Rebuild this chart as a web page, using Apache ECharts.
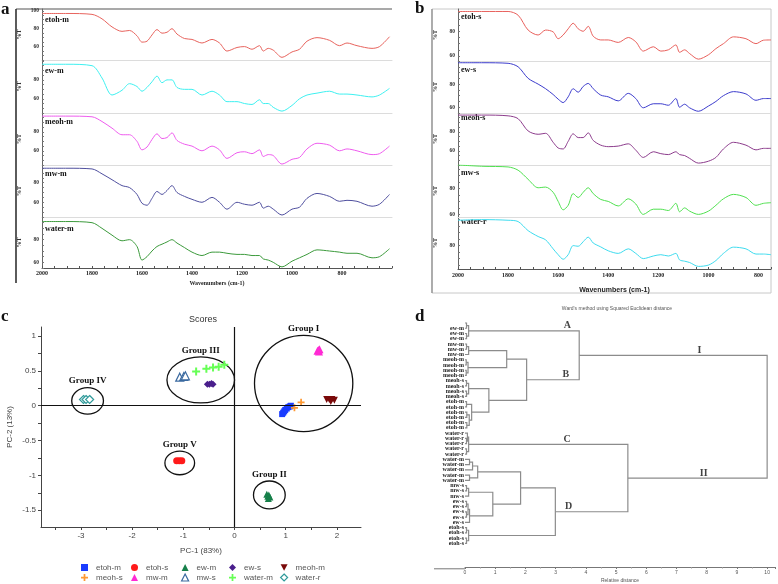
<!DOCTYPE html>
<html>
<head>
<meta charset="utf-8">
<script src="https://cdn.jsdelivr.net/npm/echarts@6.0.0/dist/echarts.min.js"></script>
<style>html,body{margin:0;padding:0;background:#fff}#main{width:778px;height:584px}</style>
</head>
<body>
<div id="main"></div>
<script>
// ---- panel a : FTIR spectra (%T) ----
var wnA = [2000,1900,1800,1760,1720,1680,1650,1620,1600,1580,1560,1540,1520,1500,1480,1460,1430,1400,1360,1320,1290,1260,1220,1190,1160,1130,1115,1095,1075,1040,1000,970,940,900,850,810,780,740,680,650,610];
var etohM = [97,97,96,91,82,77,78,72,65,66,73,79,75,76,80,74,69,68,64,68,64,55,59,60,57,61,55,58,56,48,54,57,66,70,67,61,64,61,58,60,71];
var ewM = [96.5,96.5,95,82,64,69,76,73,68,72,78,84,77,80,80,72,70,70,64,68,64,57,57,55,54,59,55,55,51,47,53,60,64,66,68,65,65,64,62,64,71];
var meohM = [96.7,96.7,96,91,84,77,77,70,61,64,72,78,73,74,79,71,67,65,60,65,61,52,58,59,57,61,54,56,55,46,51,53,62,68,66,60,62,60,56,57,65];
var mwM = [94.7,94.7,94,89,83,77,75,68,59,57,64,71,68,72,77,70,66,63,60,65,60,53,60,58,57,60,54,56,53,47,53,55,64,69,66,61,62,61,56,58,68];
var waterM = [96,96,95,90,84,79,80,74,62,65,70,74,76,78,80,77,73,69,66,69,69,68,67,67,66,66,63,62,60,56,61,64,67,71,70,69,68,68,64,65,72];

// ---- panel b : FTIR spectra (%T) ----
var wnB = [2000,1900,1800,1760,1720,1680,1650,1620,1600,1580,1560,1540,1520,1500,1480,1460,1430,1400,1360,1320,1290,1260,1220,1190,1160,1130,1115,1095,1075,1040,1000,970,940,900,850,810,780,750];
var etohS = [96,96,96,93,81,77,81,79.5,74,77,82,86.5,82,80,84,76,73,73,71,75,71.5,64,67.5,64,65,69,63,65,62,57.5,61,66,70,75.5,74,70,72.8,73];
var ewS = [98.5,98.5,98,95,85,80,76,71,67,64,69,76,73,78,80.6,76,70.5,69,65.5,72,67.5,59.5,63,63,61.7,67.5,60,62.6,59.5,56.5,61,65,70,73.5,71.5,66,67.5,67.5];
var meohS = [97.8,97.8,97,94,81,77.5,78.5,69,63,62,70,78,74,74,79,71,66,64.4,65,67.4,60.7,53,59,57,56,59,56,55,52,47,49,53,62,69,66,61,62.6,62.6];
var mwS = [98,97,96.5,94,87,80.5,81,77,70,63.5,67,76,73,77,80.5,76,71.5,70,66.5,72,68,60,64,64,63,68.5,62,65,62.5,60,62.5,67,72,75.4,73,67,68.5,69];
var waterR = [99.5,100,99.5,98.5,91.5,87,84.4,77.5,73,69.5,73,80,79.5,83,86.5,82,79,76,74,77.5,74,70,72,73,72,74,69,68,67,64,65,68.5,74,78.8,77.5,73.5,73.5,73];

// ---- panel c : PCA scores [PC-1, PC-2] ----
var pcEtohM = [[0.93,-0.12],[0.95,-0.1],[0.97,-0.08],[0.99,-0.06],[1.02,-0.04],[1.05,-0.02],[1.08,-0.01],[1.1,0.0]];
var pcEtohS = [[-1.13,-0.79],[-1.08,-0.79],[-1.03,-0.79]];
var pcEwM = [[0.63,-1.27],[0.65,-1.3],[0.67,-1.28],[0.66,-1.33],[0.69,-1.31]];
var pcEwS = [[-0.53,0.31],[-0.49,0.31],[-0.45,0.32],[-0.42,0.31]];
var pcMeohM = [[1.8,0.09],[1.85,0.09],[1.9,0.09],[1.95,0.08],[1.88,0.06]];
var pcMeohS = [[1.17,-0.03],[1.3,0.05]];
var pcMwM = [[1.62,0.79],[1.64,0.8],[1.66,0.81],[1.65,0.78]];
var pcMwS = [[-1.07,0.41],[-0.99,0.42],[-0.96,0.43]];
var pcWaterM = [[-0.75,0.49],[-0.55,0.53],[-0.42,0.55],[-0.31,0.56],[-0.2,0.59]];
var pcWaterR = [[-2.95,0.09],[-2.9,0.09],[-2.83,0.09]];
var groupNames = ['Group I','Group III','Group IV','Group V','Group II'];
var groupEllipses = [[1.35,0.32,0.96,0.69],[-0.66,0.37,0.66,0.33],[-2.87,0.07,0.31,0.19],[-1.07,-0.82,0.29,0.17],[0.68,-1.28,0.31,0.2]];

// ---- panel d : Ward dendrogram ----
var leafNames = ['ew-m','ew-m','ew-m','ew-m','mw-m','mw-m','mw-m','meoh-m','meoh-m','meoh-m','meoh-m',
  'meoh-s','meoh-s','meoh-s','meoh-s','etoh-m','etoh-m','etoh-m','etoh-m','etoh-m','etoh-m',
  'water-r','water-r','water-r','water-r','water-r','water-m','water-m','water-m','water-m','water-m',
  'mw-s','mw-s','mw-s','ew-s','ew-s','ew-s','ew-s','ew-s','etoh-s','etoh-s','etoh-s','etoh-s'];
// [child, child, relative distance]; merge k creates node 43 + k
var merges = [[0,1,0.05],[2,3,0.05],[43,44,0.12],[4,5,0.05],[46,6,0.12],[7,8,0.04],[9,10,0.04],[48,49,0.1],
  [47,50,1.38],[11,12,0.05],[13,14,0.05],[52,53,0.12],[15,16,0.05],[17,18,0.06],[19,20,0.06],[56,57,0.14],
  [55,58,0.22],[54,59,0.79],[51,60,2.04],[45,61,3.78],[22,23,0.05],[21,63,0.08],[24,25,0.05],[64,65,0.12],
  [26,27,0.15],[67,28,0.25],[29,30,0.15],[68,69,0.42],[31,32,0.05],[71,33,0.12],[34,35,0.05],[36,37,0.05],
  [73,74,0.1],[75,38,0.15],[72,76,0.92],[70,77,1.84],[39,40,0.05],[41,42,0.05],[79,80,0.12],[78,81,2.99],
  [66,82,5.39],[62,83,10.0]];
var clusterMarks = [['A',45,3.39],['B',61,3.34],['C',66,3.38],['D',82,3.43],['I',62,7.76],['II',83,7.9]];

var SERIF = '"Liberation Serif","DejaVu Serif",serif';
var SANS = '"Liberation Sans",Arial,sans-serif';

var chart = echarts.init(document.getElementById('main'));

var grids = [], xAxes = [], yAxes = [], series = [], graphics = [];

function steps(min, max, st) {
  var out = [];
  for (var v = Math.ceil(min / st) * st; v <= max + 1e-9; v += st) out.push(Math.round(v * 100) / 100);
  return out;
}

function addSpectra(rows, wn, xmin, left, width, opt) {
  rows.forEach(function (r, i) {
    var g = grids.length;
    var last = i === rows.length - 1;
    grids.push({left: left, top: r.top, width: width, height: r.height});
    xAxes.push({
      gridIndex: g, type: 'value', min: xmin, max: 2000, inverse: true, interval: 50,
      axisLine: {show: true, lineStyle: {color: last ? '#555' : '#dcdcdc', width: 1}},
      axisTick: {show: last, inside: true, length: 2, lineStyle: {color: '#555'}},
      axisLabel: {show: last, margin: opt.labelMargin, fontSize: 6, fontWeight: 'bold', fontFamily: SERIF, color: '#222',
        formatter: function (v) { return (v % 200 === 0 && v > 600) ? String(v) : ''; }},
      splitLine: {show: false},
      name: last ? 'Wavenumbers (cm-1)' : '', nameLocation: 'middle', nameGap: opt.nameGap,
      nameTextStyle: {fontSize: opt.nameSize, fontWeight: 'bold', fontFamily: opt.nameFont, color: '#222'}
    });
    yAxes.push({
      gridIndex: g, type: 'value', min: r.range[0], max: r.range[1],
      name: '%T', nameLocation: 'middle', nameGap: opt.tGap, nameRotate: 90,
      nameTextStyle: {fontSize: 6, fontWeight: 'bold', fontFamily: SERIF, color: '#333'},
      axisLine: {show: true, lineStyle: {color: '#666'}},
      axisTick: {show: true, inside: true, length: 2, customValues: steps(r.range[0], r.range[1], 5), lineStyle: {color: '#777'}},
      axisLabel: {customValues: r.labels, fontSize: 5.5, fontWeight: 'bold', fontFamily: SERIF, color: '#333', margin: 3},
      splitLine: {show: false}
    });
    series.push({
      type: 'line', name: 'FTIR ' + r.name, xAxisIndex: g, yAxisIndex: g, silent: true,
      data: wn.map(function (w, k) { return [w, r.values[k]]; }),
      symbol: 'none', smooth: 0.3, lineStyle: {color: r.color, width: 1}
    });
    graphics.push({type: 'text', x: left + 3, y: r.top + r.labelDy,
      style: {text: r.name, font: 'bold 8px ' + SERIF, fill: '#111', verticalAlign: 'middle'}});
  });
}

addSpectra([
  {name: 'etoh-m', values: etohM, color: '#e8645e', range: [45, 102], labels: [60, 80, 100], top: 9, height: 51, labelDy: 11},
  {name: 'ew-m', values: ewM, color: '#3ef0f0', range: [45, 101], labels: [60, 80], top: 60, height: 53, labelDy: 11},
  {name: 'meoh-m', values: meohM, color: '#ee5cee', range: [45, 100], labels: [60, 80], top: 113, height: 52, labelDy: 9},
  {name: 'mw-m', values: mwM, color: '#4f4f9e', range: [45, 98], labels: [60, 80], top: 165, height: 52, labelDy: 9},
  {name: 'water-m', values: waterM, color: '#3c9a3c', range: [55, 100], labels: [60, 80], top: 217, height: 51, labelDy: 12}
], wnA, 600, 42, 350, {labelMargin: 2, nameGap: 12, nameSize: 6, nameFont: SERIF, tGap: 20});

addSpectra([
  {name: 'etoh-s', values: etohS, color: '#e8605c', range: [56, 98], labels: [60, 80], top: 9, height: 52, labelDy: 8},
  {name: 'ew-s', values: ewS, color: '#3c3ccc', range: [55, 100], labels: [60, 80], top: 61, height: 52, labelDy: 9},
  {name: 'meoh-s', values: meohS, color: '#8c3c8c', range: [45, 100], labels: [60, 80], top: 113, height: 52, labelDy: 5},
  {name: 'mw-s', values: mwS, color: '#4fe04f', range: [58, 98], labels: [60, 80], top: 165, height: 52, labelDy: 8},
  {name: 'water-r', values: waterR, color: '#3edcef', range: [62, 102], labels: [80], top: 217, height: 52, labelDy: 5}
], wnB, 750, 458, 313, {labelMargin: 3, nameGap: 18, nameSize: 7, nameFont: SANS, tGap: 20});

// ---- panel c grid ----
var gC = grids.length;
grids.push({left: 41, top: 327, width: 320, height: 200});
xAxes.push({
  gridIndex: gC, type: 'value', min: -3.78, max: 2.47,
  axisLine: {onZero: false, lineStyle: {color: '#444'}},
  axisTick: {customValues: steps(-3.5, 2, 0.5), length: 3, lineStyle: {color: '#444'}},
  axisLabel: {customValues: [-3, -2, -1, 0, 1, 2], fontSize: 8, fontFamily: SANS, color: '#444', margin: 5},
  splitLine: {show: false},
  name: 'PC-1 (83%)', nameLocation: 'middle', nameGap: 20, nameTextStyle: {fontSize: 8, fontFamily: SANS, color: '#444'}
});
yAxes.push({
  gridIndex: gC, type: 'value', min: -1.74, max: 1.13,
  axisLine: {show: true, onZero: false, lineStyle: {color: '#444'}},
  axisTick: {show: true, customValues: steps(-1.5, 1, 0.25), length: 3, lineStyle: {color: '#444'}},
  axisLabel: {customValues: [-1.5, -1, -0.5, 0, 0.5, 1], fontSize: 8, fontFamily: SANS, color: '#444', margin: 5},
  splitLine: {show: false},
  name: 'PC-2 (13%)', nameLocation: 'middle', nameGap: 27, nameTextStyle: {fontSize: 8, fontFamily: SANS, color: '#444'}
});

var PLUS = 'path://M3,0H5V3H8V5H5V8H3V5H0V3H3Z';
var DOWN = 'path://M0,0H10L5,9Z';
var pcaSets = [
  {name: 'etoh-m', data: pcEtohM, symbol: 'rect', size: 6, style: {color: '#1a3cff'}},
  {name: 'etoh-s', data: pcEtohS, symbol: 'circle', size: 7, style: {color: '#ff1a1a'}},
  {name: 'ew-m', data: pcEwM, symbol: 'triangle', size: 7, style: {color: '#17804a'}},
  {name: 'ew-s', data: pcEwS, symbol: 'diamond', size: 7, style: {color: '#4a1f8c'}},
  {name: 'meoh-m', data: pcMeohM, symbol: DOWN, size: 7, style: {color: '#7a0a0a'}},
  {name: 'meoh-s', data: pcMeohS, symbol: PLUS, size: 7, style: {color: '#ff9a33'}},
  {name: 'mw-m', data: pcMwM, symbol: 'triangle', size: 8, style: {color: '#ff2ad4'}},
  {name: 'mw-s', data: pcMwS, symbol: 'triangle', size: 8, style: {color: '#ffffff', borderColor: '#3b6aa0', borderWidth: 1.2}},
  {name: 'water-m', data: pcWaterM, symbol: PLUS, size: 8, style: {color: '#66ff55'}},
  {name: 'water-r', data: pcWaterR, symbol: 'diamond', size: 8, style: {color: '#ffffff', borderColor: '#2f9a9a', borderWidth: 1.2}}
];

series.push({
  type: 'custom', name: 'groups', xAxisIndex: gC, yAxisIndex: gC, silent: true,
  data: groupEllipses, encode: {x: 0, y: 1},
  renderItem: function (params, api) {
    var c = api.coord([api.value(0), api.value(1)]);
    var s = api.size([api.value(2), api.value(3)]);
    return {type: 'group', children: [
      {type: 'ellipse', shape: {cx: c[0], cy: c[1], rx: s[0], ry: s[1]}, style: {fill: 'none', stroke: '#111', lineWidth: 1.3}},
      {type: 'text', x: c[0], y: c[1] - s[1] - 2,
        style: {text: groupNames[params.dataIndex], font: 'bold 9px ' + SERIF, fill: '#111', align: 'center', verticalAlign: 'bottom'}}
    ]};
  },
  markLine: {silent: true, symbol: ['none', 'none'], label: {show: false},
    lineStyle: {color: '#111', width: 1.2, type: 'solid'}, data: [{xAxis: 0}, {yAxis: 0}]}
});

pcaSets.forEach(function (p) {
  series.push({type: 'scatter', name: p.name, xAxisIndex: gC, yAxisIndex: gC, data: p.data,
    symbol: p.symbol, symbolSize: p.size, itemStyle: Object.assign({opacity: 1}, p.style), z: 3});
});

var legendCols = [[0, 5], [1, 6], [2, 7], [3, 8], [4, 9]];
var legendLeft = [81, 131, 181, 229, 280];
var legends = legendCols.map(function (col, i) {
  return {
    orient: 'vertical', left: legendLeft[i], top: 563, padding: 0, itemGap: 1,
    itemWidth: 7, itemHeight: 7, selectedMode: false,
    textStyle: {fontSize: 8, lineHeight: 9, fontFamily: SANS, color: '#555', padding: [0, 0, 0, 3]},
    data: col.map(function (k) {
      var p = pcaSets[k];
      return {name: p.name, icon: p.symbol, itemStyle: p.style};
    })
  };
});

// ---- panel d grid ----
var gD = grids.length;
grids.push({left: 465, top: 323, width: 312, height: 245.8});
xAxes.push({
  gridIndex: gD, type: 'value', min: 0, max: 10.26, interval: 1,
  axisLine: {onZero: false, lineStyle: {color: '#777'}},
  axisTick: {length: 2, lineStyle: {color: '#777'}},
  minorTick: {show: true, splitNumber: 2, length: 1.5, lineStyle: {color: '#999'}},
  axisLabel: {fontSize: 5, fontFamily: SANS, color: '#555', margin: 3,
    formatter: function (v) { return v <= 10 ? String(v) : ''; }},
  splitLine: {show: false},
  name: 'Relative distance', nameLocation: 'middle', nameGap: 11, nameTextStyle: {fontSize: 5, fontFamily: SANS, color: '#555'}
});
yAxes.push({
  gridIndex: gD, type: 'value', min: 0, max: 46.5, interval: 1, inverse: true,
  axisLine: {show: false}, axisTick: {show: false}, splitLine: {show: false},
  axisLabel: {fontSize: 6, fontWeight: 'bold', fontFamily: SERIF, color: '#222', margin: 1,
    formatter: function (v) { return leafNames[v] || ''; }}
});

var nodeY = leafNames.map(function (_, i) { return i; });
var nodeH = leafNames.map(function () { return 0; });
var segments = [];
merges.forEach(function (m) {
  segments.push([nodeH[m[0]], nodeY[m[0]], nodeH[m[1]], nodeY[m[1]], m[2]]);
  nodeY.push((nodeY[m[0]] + nodeY[m[1]]) / 2);
  nodeH.push(m[2]);
});

series.push({
  type: 'custom', name: 'dendrogram', xAxisIndex: gD, yAxisIndex: gD, silent: true,
  data: segments, encode: {x: [0, 2, 4], y: [1, 3]},
  renderItem: function (params, api) {
    var a1 = api.coord([api.value(0), api.value(1)]);
    var a2 = api.coord([api.value(4), api.value(1)]);
    var b2 = api.coord([api.value(4), api.value(3)]);
    var b1 = api.coord([api.value(2), api.value(3)]);
    return {type: 'polyline', shape: {points: [a1, a2, b2, b1]}, style: {fill: 'none', stroke: '#8c8c8c', lineWidth: 1.2}};
  }
});
series.push({
  type: 'scatter', name: 'clusters', xAxisIndex: gD, yAxisIndex: gD, silent: true, symbolSize: 0,
  data: clusterMarks.map(function (c) { return {name: c[0], value: [c[2], nodeY[c[1]]]}; }),
  label: {show: true, position: 'top', distance: 0, formatter: '{b}',
    fontSize: 10, fontWeight: 'bold', fontFamily: SERIF, color: '#111'}
});

// ---- frames and free text ----
graphics.push(
  {type: 'line', shape: {x1: 16, y1: 9, x2: 392, y2: 9}, style: {stroke: '#555', lineWidth: 1.2}},
  {type: 'line', shape: {x1: 16, y1: 9, x2: 16, y2: 283}, style: {stroke: '#333', lineWidth: 1.6}},
  {type: 'rect', shape: {x: 432, y: 9, width: 339, height: 284}, style: {fill: 'none', stroke: '#c8c8c8', lineWidth: 1}},
  {type: 'line', shape: {x1: 432, y1: 9, x2: 432, y2: 293}, style: {stroke: '#888', lineWidth: 1.2}},
  {type: 'line', shape: {x1: 434, y1: 568.8, x2: 465, y2: 568.8}, style: {stroke: '#777', lineWidth: 1}},
  {type: 'text', x: 1, y: 10, style: {text: 'a', font: 'bold 17px ' + SERIF, fill: '#111', verticalAlign: 'middle'}},
  {type: 'text', x: 415, y: 9, style: {text: 'b', font: 'bold 17px ' + SERIF, fill: '#111', verticalAlign: 'middle'}},
  {type: 'text', x: 1, y: 317, style: {text: 'c', font: 'bold 17px ' + SERIF, fill: '#111', verticalAlign: 'middle'}},
  {type: 'text', x: 415, y: 317, style: {text: 'd', font: 'bold 17px ' + SERIF, fill: '#111', verticalAlign: 'middle'}},
  {type: 'text', x: 203, y: 320, style: {text: 'Scores', font: '9px ' + SANS, fill: '#333', align: 'center', verticalAlign: 'middle'}},
  {type: 'text', x: 617, y: 309, style: {text: "Ward's method using Squared Euclidean distance", font: '5px ' + SANS, fill: '#555', align: 'center', verticalAlign: 'middle'}}
);

chart.setOption({
  animation: false,
  backgroundColor: '#fff',
  grid: grids,
  xAxis: xAxes,
  yAxis: yAxes,
  legend: legends,
  series: series,
  graphic: {elements: graphics}
});
</script>
</body>
</html>
